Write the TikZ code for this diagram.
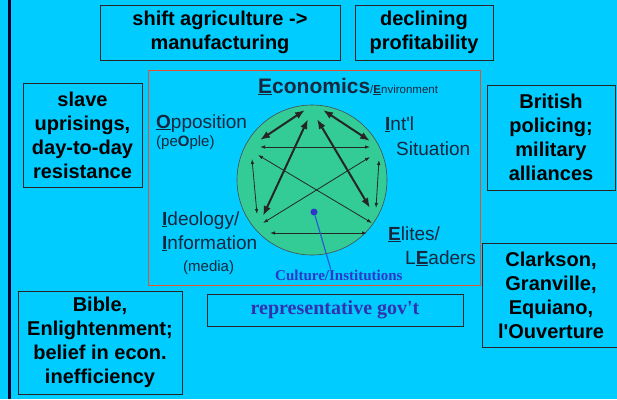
\documentclass[tikz,border=0pt]{standalone}
\usepackage{fontspec}
\setmainfont{Liberation Sans}
\newfontfamily\serifbold{Liberation Serif}
\usetikzlibrary{arrows.meta}
\definecolor{slidebg}{RGB}{0,204,255}
\definecolor{wheelgreen}{RGB}{51,204,150}
\definecolor{framered}{RGB}{222,84,52}
\definecolor{labelink}{RGB}{22,40,62}
\definecolor{cultureblue}{RGB}{45,55,200}
\definecolor{govblue}{RGB}{50,50,175}
\newcommand{\keyletter}[1]{\underline{\textbf{#1}}}

\begin{document}
\begin{tikzpicture}[x=1pt,y=-1pt,font=\bfseries\fontsize{20}{24}\selectfont,
    factbox/.style={draw=black!85, line width=0.9pt, align=center, inner sep=0pt},
    wheellabel/.style={text=labelink, inner sep=0pt, anchor=base west, font=\fontsize{19}{22}\selectfont},
    bigarrow/.style={{Latex[length=10pt,width=7.5pt]}-{Latex[length=10pt,width=7.5pt]}, line width=2pt, black!85},
    smallarrow/.style={{Latex[length=5pt,width=3.5pt]}-{Latex[length=5pt,width=3.5pt]}, line width=0.8pt, black!85}]
        % slide background
        \fill[slidebg] (0,0) rectangle (617,399);
        \useasboundingbox (0,0) rectangle (617,399);
        \draw[line width=2.5pt, black!85!blue] (9.5,0) -- (9.5,399);

        % boxes round the wheel
        \node[factbox, minimum width=240pt, minimum height=55pt] (agri) at (220,32.5) {shift agriculture ->\\manufacturing};
        \node[factbox, minimum width=138pt, minimum height=55pt] (profit) at (424,32.5) {declining\\profitability};
        \node[factbox, minimum width=119pt, minimum height=104pt] (revolt) at (82.5,135) {slave\\uprisings,\\day-to-day\\resistance};
        \node[factbox, minimum width=128pt, minimum height=105pt] (police) at (551,137.5) {British\\policing;\\military\\alliances};
        \node[factbox, minimum width=138pt, minimum height=104pt] (abolition) at (551,295) {Clarkson,\\Granville,\\Equiano,\\l\textquotesingle Ouverture};
        \node[factbox, minimum width=164pt, minimum height=103pt] (belief) at (100,342.5) {Bible,\\Enlightenment;\\belief in econ.\\inefficiency};
        \node[factbox, minimum width=256pt, minimum height=32pt, text=govblue, font=\serifbold\bfseries\fontsize{20}{24}\selectfont] (gov) at (335,310) {representative gov\textquotesingle t};

        % the wheel
        \draw[framered, line width=0.8pt] (148,70) rectangle (480,285);
        \node[circle, draw=black!70, line width=0.6pt, fill=wheelgreen, minimum size=150pt, inner sep=0pt] (wheel) at (312,180) {};

        \node[wheellabel] (eco) at (258,93) {{\fontsize{21}{24}\bfseries\keyletter{E}conomics}{\fontsize{11.5}{14}\selectfont/\keyletter{E}nvironment}};
        \node[wheellabel] (opp) at (156,128) {\keyletter{O}pposition};
        \node[wheellabel, font=\fontsize{15}{18}\selectfont] (people) at (156,146) {(pe\textbf{O}ple)};
        \node[wheellabel] (intl) at (385,130) {\keyletter{I}nt\textquotesingle l};
        \node[wheellabel] (situation) at (396,155) {Situation};
        \node[wheellabel] (ideology) at (162,225) {\keyletter{I}deology/};
        \node[wheellabel] (information) at (162,249) {\keyletter{I}nformation};
        \node[wheellabel, font=\fontsize{15}{18}\selectfont] (media) at (183,271) {(media)};
        \node[wheellabel] (elites) at (388,240) {\keyletter{E}lites/};
        \node[wheellabel] (leaders) at (405,264) {L\keyletter{E}aders};
        \node[wheellabel, text=cultureblue, font=\serifbold\bfseries\fontsize{15}{18}\selectfont] (culture) at (275,280) {Culture/Institutions};

        % arrow ends
        \coordinate (eco-opp) at (305,110);
        \coordinate (opp-eco) at (260,140);
        \coordinate (eco-int) at (323,110);
        \coordinate (int-eco) at (370,141);
        \coordinate (eco-ide) at (308,119);
        \coordinate (ide-eco) at (263,216);
        \coordinate (eco-eli) at (317,119);
        \coordinate (eli-eco) at (370,208);
        \coordinate (opp-int) at (260,147);
        \coordinate (int-opp) at (370,147);
        \coordinate (opp-eli) at (258,155);
        \coordinate (eli-opp) at (372,223);
        \coordinate (int-ide) at (370,157);
        \coordinate (ide-int) at (263,223);
        \coordinate (opp-ide) at (252,159);
        \coordinate (ide-opp) at (257,214);
        \coordinate (int-eli) at (379,160);
        \coordinate (eli-int) at (376,208);
        \coordinate (ide-eli) at (270,233);
        \coordinate (eli-ide) at (367,233);

        \draw[bigarrow] (eco-opp) -- (opp-eco);
        \draw[bigarrow] (eco-int) -- (int-eco);
        \draw[bigarrow] (eco-ide) -- (ide-eco);
        \draw[bigarrow] (eco-eli) -- (eli-eco);
        \draw[smallarrow] (opp-int) -- (int-opp);
        \draw[smallarrow] (opp-eli) -- (eli-opp);
        \draw[smallarrow] (int-ide) -- (ide-int);
        \draw[smallarrow] (opp-ide) -- (ide-opp);
        \draw[smallarrow] (int-eli) -- (eli-int);
        \draw[smallarrow] (ide-eli) -- (eli-ide);

        % culture in the middle
        \node[circle, fill=cultureblue, minimum size=7pt, inner sep=0pt] (core) at (314,212) {};
        \draw[line width=1.2pt, cultureblue!80!cyan] (core) -- ([xshift=-8pt]culture.north);
    \end{tikzpicture}
\end{document}
